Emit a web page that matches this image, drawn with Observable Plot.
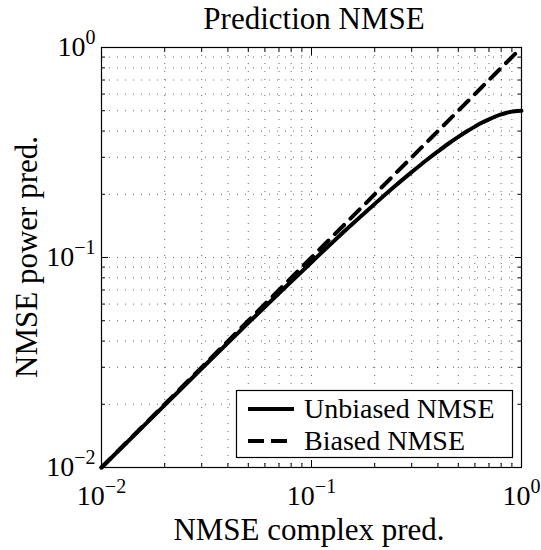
<!DOCTYPE html>
<html>
<head>
<meta charset="utf-8">
<script src="https://cdn.jsdelivr.net/npm/d3@7"></script>
<script src="https://cdn.jsdelivr.net/npm/@observablehq/plot@0.6"></script>
<style>
  html, body { margin: 0; padding: 0; background: #fff; }
  svg, svg text { font-family: "Liberation Serif", "DejaVu Serif", serif !important; }
</style>
</head>
<body>
<div id="chart"></div>
<script>
// ---- data ----
const titleText = "Prediction NMSE";
const xLabel = "NMSE complex pred.";
const yLabel = "NMSE power pred.";
const seriesNames = ["Unbiased NMSE", "Biased NMSE"];

const nmseComplex = [0.01, 0.02, 0.03, 0.05, 0.07, 0.1, 0.15, 0.2, 0.25, 0.3, 0.35, 0.4, 0.45, 0.5, 0.55, 0.6, 0.65, 0.7, 0.75, 0.8, 0.85, 0.9, 0.95, 1.0];
const unbiasedPower = [0.01, 0.0198, 0.0296, 0.0488, 0.0676, 0.095, 0.139, 0.18, 0.219, 0.255, 0.289, 0.32, 0.349, 0.375, 0.399, 0.42, 0.439, 0.455, 0.469, 0.48, 0.489, 0.495, 0.499, 0.5];
const biasedPower = [0.01, 0.02, 0.03, 0.05, 0.07, 0.1, 0.15, 0.2, 0.25, 0.3, 0.35, 0.4, 0.45, 0.5, 0.55, 0.6, 0.65, 0.7, 0.75, 0.8, 0.85, 0.9, 0.95, 1.0];

const majorTicks = [0.01, 0.1, 1];
const majorTickLabels = ["10^-2", "10^-1", "10^0"];
const minorTicks = [0.02, 0.03, 0.04, 0.05, 0.06, 0.07, 0.08, 0.09, 0.2, 0.3, 0.4, 0.5, 0.6, 0.7, 0.8, 0.9];
const gridTicks = [...majorTicks, ...minorTicks];

// ---- table built from arrays ----
const unbiased = nmseComplex.map((x, i) => ({x, y: unbiasedPower[i]}));
const biased = nmseComplex.map((x, i) => ({x, y: biasedPower[i]}));

const W = 541, H = 550;
const mL = 101, mR = 20, mT = 47, mB = 83;
const FONT = '"Liberation Serif", "DejaVu Serif", serif';
const labelOf = v => majorTickLabels[majorTicks.indexOf(v)] ?? "";

const gridStyle = {stroke: "#000", strokeOpacity: 0.6, strokeWidth: 1, strokeDasharray: "1,7"};

const chart = Plot.plot({
  width: W, height: H,
  marginLeft: mL, marginRight: mR, marginTop: mT, marginBottom: mB,
  style: {fontFamily: FONT, fontSize: "28px", color: "#000", background: "#fff"},
  x: {type: "log", domain: [0.01, 1]},
  y: {type: "log", domain: [0.01, 1]},
  marks: [
    Plot.gridX(gridTicks, gridStyle),
    Plot.gridY(gridTicks, gridStyle),
    // inward minor ticks on all sides
    Plot.axisX(minorTicks, {anchor: "bottom", tickSize: -4, tickFormat: () => "", label: null}),
    Plot.axisX(minorTicks, {anchor: "top", tickSize: -4, tickFormat: () => "", label: null}),
    Plot.axisY(minorTicks, {anchor: "left", tickSize: -4, tickFormat: () => "", label: null}),
    Plot.axisY(minorTicks, {anchor: "right", tickSize: -4, tickFormat: () => "", label: null}),
    // major ticks with labels
    Plot.axisX(majorTicks, {anchor: "bottom", tickSize: -7, tickPadding: 25, tickFormat: labelOf, label: null, fontSize: 28}),
    Plot.axisX(majorTicks, {anchor: "top", tickSize: -7, tickFormat: () => "", label: null}),
    Plot.axisY(majorTicks, {anchor: "left", tickSize: -7, tickPadding: 13, tickFormat: labelOf, label: null, fontSize: 28}),
    Plot.axisY(majorTicks, {anchor: "right", tickSize: -7, tickFormat: () => "", label: null}),
    Plot.line(biased, {x: "x", y: "y", stroke: "#000", strokeWidth: 4, strokeDasharray: "13,9", curve: "monotone-x"}),
    Plot.line(unbiased, {x: "x", y: "y", stroke: "#000", strokeWidth: 4, curve: "monotone-x"}),
    Plot.frame({stroke: "#000", strokeWidth: 1.2})
  ]
});

document.getElementById("chart").appendChild(chart);
const svg = d3.select(chart).attr("font-family", FONT);

// superscript exponents in tick labels
svg.selectAll('g[aria-label="x-axis tick label"] text, g[aria-label="y-axis tick label"] text').each(function() {
  const t = this.textContent;
  if (!t.includes("^")) return;
  const [base, exp] = t.split("^");
  const el = d3.select(this);
  el.text(null);
  el.append("tspan").text(base);
  el.append("tspan").attr("dy", "-12").attr("font-size", 20).text(exp.replace("-", "\u2212"));
});

// title and axis labels
const addText = (sel) => sel.attr("font-family", FONT).attr("fill", "#000");
addText(svg.append("text")).attr("x", 314).attr("y", 29).attr("text-anchor", "middle")
  .attr("font-size", 31).text(titleText);
addText(svg.append("text")).attr("x", 309).attr("y", 540).attr("text-anchor", "middle")
  .attr("font-size", 31).text(xLabel);
addText(svg.append("text")).attr("transform", `translate(37,${mT + (H - mT - mB) / 2}) rotate(-90)`)
  .attr("text-anchor", "middle").attr("font-size", 31).text(yLabel);

// legend
const lg = svg.append("g");
lg.append("rect").attr("x", 236.5).attr("y", 390.5).attr("width", 276).attr("height", 67)
  .attr("fill", "#fff").attr("stroke", "#000").attr("stroke-width", 1.2);
[[null, 409, 418], ["16,7", 441, 450]].forEach(([dash, yy, base], i) => {
  lg.append("line").attr("x1", 248).attr("x2", 294).attr("y1", yy).attr("y2", yy)
    .attr("stroke", "#000").attr("stroke-width", 4).attr("stroke-dasharray", dash);
  addText(lg.append("text")).attr("x", 304).attr("y", base).attr("text-anchor", "start")
    .attr("font-size", 28).text(seriesNames[i]);
});
</script>
</body>
</html>
